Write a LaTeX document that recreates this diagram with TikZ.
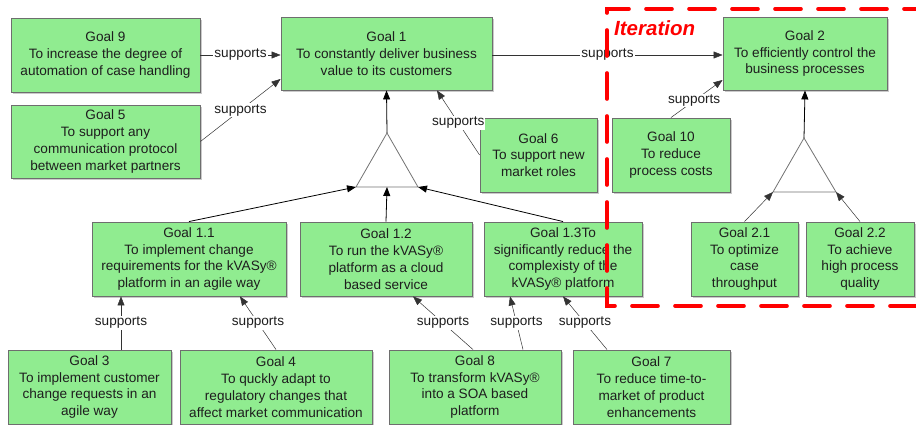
\documentclass[tikz,border=0pt]{standalone}
\usepackage{fontspec}
\setmainfont{Liberation Sans}
\usetikzlibrary{arrows.meta,shadows,calc}
\definecolor{goalfill}{RGB}{144,236,144}
\definecolor{goalline}{RGB}{110,110,110}
\definecolor{txt}{RGB}{30,30,30}
\definecolor{iterred}{RGB}{255,0,0}
\begin{document}
\begin{tikzpicture}[x=1pt,y=-1pt,
  goal/.style={draw=goalline, line width=0.9pt, fill=goalfill, text=txt,
    align=center, inner sep=1pt, font=\fontsize{13.6}{16.8}\selectfont,
    drop shadow={shadow xshift=1.6pt, shadow yshift=-1.6pt, opacity=0.35, fill=black!60}},
  sup/.style={draw=black!80, line width=0.5pt, -{Triangle[length=9pt,width=7pt]}},
  ref/.style={draw=black, line width=0.8pt, -{Triangle[length=9pt,width=7pt]}},
  lbl/.style={fill=white, inner sep=1pt, text=txt, font=\fontsize{13.6}{15}\selectfont},
  tri/.style={draw=black!55, line width=0.8pt, fill=white}]
\useasboundingbox (0,0) rectangle (916,425);

% goals
\node[goal, minimum width=189, minimum height=74] (g9) at (105.5,55) {Goal 9\\To increase the degree of\\automation of case handling};
\node[goal, minimum width=189, minimum height=73] (g5) at (105.5,141.5) {Goal 5\\To support any\\communication protocol\\between market partners};
\node[goal, minimum width=211, minimum height=73] (g1) at (386.5,53.5) {Goal 1\\To constantly deliver business\\value to its customers};
\node[goal, minimum width=164, minimum height=73] (g2) at (805,53.5) {Goal 2\\To efficiently control the\\business processes};
\node[goal, minimum width=117, minimum height=74] (g6) at (538.5,155) {Goal 6\\To support new\\market roles};
\node[goal, minimum width=118, minimum height=74] (g10) at (671,155) {Goal 10\\To reduce\\process costs};
\node[goal, minimum width=194, minimum height=74] (g11) at (189,259) {Goal 1.1\\To implement change\\requirements for the kVASy®\\platform in an agile way};
\node[goal, minimum width=172, minimum height=74] (g12) at (386,259) {Goal 1.2\\To run the kVASy®\\platform as a cloud\\based service};
\node[goal, minimum width=158, minimum height=74] (g13) at (563,259) {Goal 1.3To\\significantly reduce the\\complexisty of the\\kVASy® platform};
\node[goal, minimum width=107, minimum height=74] (g21) at (744.5,259) {Goal 2.1\\To optimize\\case\\throughput};
\node[goal, minimum width=108, minimum height=74] (g22) at (860,259) {Goal 2.2\\To achieve\\high process\\quality};
\node[goal, minimum width=163, minimum height=74] (g3) at (89.5,387) {Goal 3\\To implement customer\\change requests in an\\agile way};
\node[goal, minimum width=192, minimum height=74] (g4) at (276,387) {Goal 4\\To quckly adapt to\\regulatory changes that\\affect market communication};
\node[goal, minimum width=172, minimum height=74] (g8) at (475,387) {Goal 8\\To transform kVASy®\\into a SOA based\\platform};
\node[goal, minimum width=157, minimum height=74] (g7) at (651.5,387) {Goal 7\\To reduce time-to-\\market of product\\enhancements};

% refinement triangles
\coordinate (t1a) at (387,133);
\coordinate (t1l) at (356,187);
\coordinate (t1r) at (418,187);
\coordinate (t1m) at (387,187);
\coordinate (t2a) at (804,138);
\coordinate (t2l) at (773,192);
\coordinate (t2r) at (836,192);
\path[tri] (t1a) -- (t1l) -- (t1r) -- cycle;
\path[tri] (t2a) -- (t2l) -- (t2r) -- cycle;

\draw[ref] (t1a) -- (g1.south);
\draw[ref] (t2a) -- (g2.south);
\draw[ref] (g11.north) -- (t1l);
\draw[ref] (g12.north) -- (t1m);
\draw[ref] (g13.north) -- (t1r);
\draw[sup] (g21.north) -- (t2l);
\draw[sup] (g22.north) -- (t2r);

% supports
\draw[sup] (g9.east) -- node[lbl] {supports} (g1.west |- g9.east);
\draw[sup] (g5.east) -- node[lbl] {supports} ([yshift=-25.5pt]g1.west);
\draw[sup] (g1.east |- g9.east) -- node[lbl] {supports} (g2.west |- g9.east);
\draw[sup] (g6.west) -- node[lbl] {supports} ([xshift=50.5pt]g1.south);
\draw[sup] (g10.north) -- node[lbl, pos=0.45] {supports} ([yshift=-26.5pt]g2.west);
\draw[sup] ([xshift=31.5pt]g3.north) -- node[lbl] {supports} ([xshift=-68pt]g11.south);
\draw[sup] (g4.north) -- node[lbl] {supports} ([xshift=51pt]g11.south);
\draw[sup] ([xshift=-2pt]g8.north) -- node[lbl] {supports} ([xshift=27pt]g12.south);
\draw[sup] ([xshift=48pt]g8.north) -- node[lbl] {supports} ([xshift=-53pt]g13.south);
\draw[sup] ([xshift=-44.5pt]g7.north) -- node[lbl] {supports} (g13.south);

% iteration
\coordinate (itl) at (607,9);
\coordinate (ibl) at (607,306);
\draw[iterred, line width=3.6pt, line cap=round, dash pattern=on 26pt off 17pt]
  (930,9) -- (itl) -- (ibl) -- (930,306);
\node[text=iterred, font=\fontsize{20.5}{24}\bfseries\itshape\selectfont, anchor=west, inner sep=0pt] (itlab) at (614,28) {Iteration};
\end{tikzpicture}
\end{document}
